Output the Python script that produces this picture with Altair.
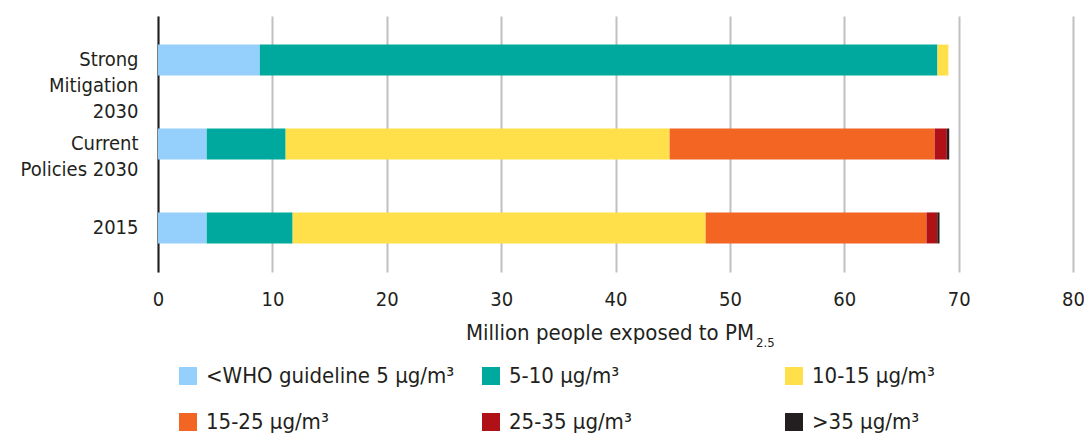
import altair as alt
import pandas as pd

# Scenarios (top to bottom); '|' marks a line break in the axis label
scenarios = ["Strong|Mitigation|2030", "Current|Policies 2030", "2015"]

# Concentration bands (legend order)
bands = [
    "<WHO guideline 5 μg/m³",
    "5-10 μg/m³",
    "10-15 μg/m³",
    "15-25 μg/m³",
    "25-35 μg/m³",
    ">35 μg/m³",
]
colors = ["#95D0FC", "#00A99D", "#FFE04B", "#F26522", "#B01116", "#231F20"]

# Million people per band, one list per scenario
strong_mitigation_2030 = [8.9, 59.25, 0.95, 0.0, 0.0, 0.0]
current_policies_2030 = [4.26, 6.9, 33.57, 23.17, 1.07, 0.21]
year_2015 = [4.26, 7.51, 36.11, 19.31, 0.94, 0.2]

x_ticks = [0, 10, 20, 30, 40, 50, 60, 70, 80]

rows = []
for scen, vals in zip(scenarios, [strong_mitigation_2030, current_policies_2030, year_2015]):
    for i, (b, v) in enumerate(zip(bands, vals)):
        rows.append({"scenario": scen, "band": b, "value": v, "order": i})
df = pd.DataFrame(rows)

FONT = "DejaVu Sans Condensed, DejaVu Sans, sans-serif"
TXT = "#231F20"

bars = alt.Chart(df).mark_bar(size=31).encode(
    x=alt.X(
        "value:Q",
        stack="zero",
        scale=alt.Scale(domain=[0, 80], nice=False),
        axis=alt.Axis(
            values=x_ticks,
            title=None,
            grid=True,
            gridColor="#C0C0C0",
            gridWidth=2,
            domain=False,
            ticks=False,
            labelFlush=False,
            labelPadding=17,
            labelFontSize=20,
            labelFont=FONT,
            labelColor=TXT,
        ),
    ),
    y=alt.Y(
        "scenario:N",
        sort=scenarios,
        scale=alt.Scale(paddingInner=0.63, paddingOuter=0.34),
        axis=alt.Axis(
            title=None,
            domain=True,
            domainColor=TXT,
            domainWidth=2,
            ticks=False,
            grid=False,
            labelPadding=20,
            labelFontSize=20,
            labelFont=FONT,
            labelColor=TXT,
            labelLineHeight=26,
            labelExpr="split(datum.label, '|')",
        ),
    ),
    color=alt.Color(
        "band:N",
        scale=alt.Scale(domain=bands, range=colors),
        legend=alt.Legend(
            title=None,
            orient="none",
            legendX=19,
            legendY=349,
            direction="horizontal",
            columns=3,
            gridAlign="all",
            columnPadding=25,
            rowPadding=24,
            symbolType="square",
            symbolSize=324,
            symbolStrokeWidth=0,
            symbolOpacity=1,
            labelOffset=7,
            labelFontSize=22,
            labelFont=FONT,
            labelColor=TXT,
            labelLimit=400,
        ),
    ),
    order=alt.Order("order:Q", sort="ascending"),
)

title_main = alt.Chart(pd.DataFrame({"t": ["Million people exposed to PM"]})).mark_text(
    align="right", baseline="alphabetic", fontSize=22, font=FONT, color=TXT
).encode(text="t:N", x=alt.value(596), y=alt.value(324))

title_sub = alt.Chart(pd.DataFrame({"t": ["2.5"]})).mark_text(
    align="left", baseline="alphabetic", fontSize=13, font=FONT, color=TXT
).encode(text="t:N", x=alt.value(598), y=alt.value(331))

chart = alt.layer(bars, title_main, title_sub).properties(
    width=915,
    height=256,
    padding={"left": 150, "top": 8, "right": 11, "bottom": 165},
    autosize=alt.AutoSizeParams(type="none"),
).configure_view(stroke=None)

chart.save("out.html", embed_options={"renderer": "svg", "actions": False})
